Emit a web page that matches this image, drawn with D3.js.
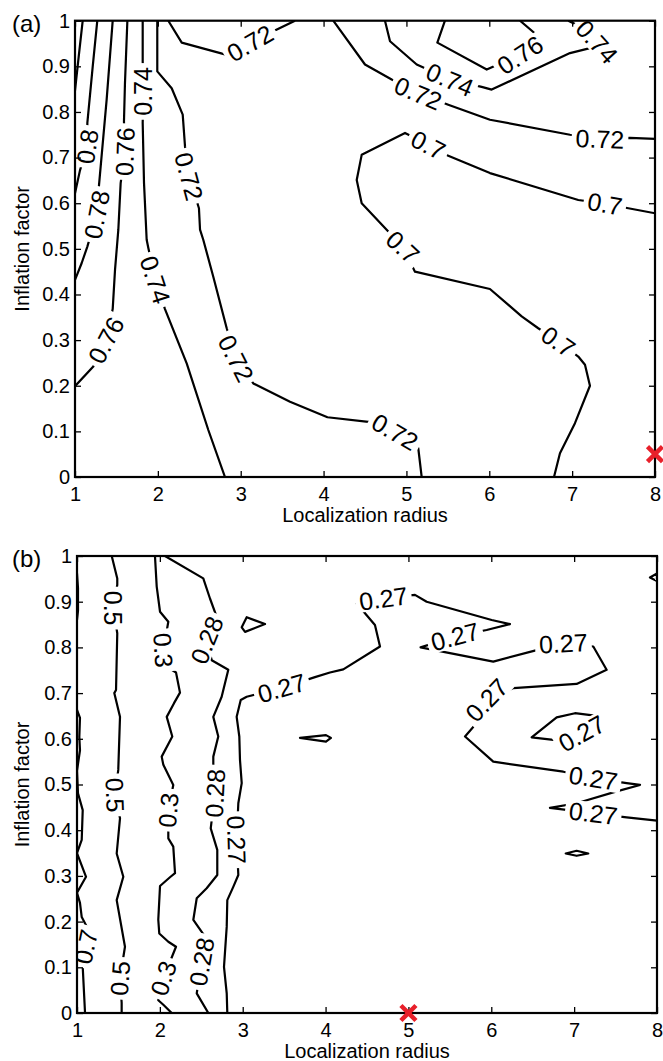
<!DOCTYPE html>
<html><head><meta charset="utf-8">
<script src="https://cdn.jsdelivr.net/npm/d3@7"></script>
<style>
body{margin:0;background:#fff}
text{font-family:"Liberation Sans",Arial,Helvetica,sans-serif;fill:#000}
</style>
</head><body>
<svg id="chart" width="663" height="1061"></svg>
<script>
// ---------- data ----------
const xTicks = [1,2,3,4,5,6,7,8];
const yTicks = [0,0.1,0.2,0.3,0.4,0.5,0.6,0.7,0.8,0.9,1];
const xLabel = "Localization radius";
const yLabel = "Inflation factor";

// Panel (a) contour lines [x, y] in data units
const contoursA = [
  {level:0.82, pts:[[1.093,1.0],[1.045,0.922],[1.0,0.847]]},
  {level:0.80, pts:[[1.269,1.0],[1.214,0.900],[1.149,0.776],[1.149,0.724],[1.060,0.672],[1.0,0.622]]},
  {level:0.78, pts:[[1.455,1.0],[1.382,0.827],[1.290,0.640],[1.262,0.575],[1.149,0.505],[1.081,0.469],[1.0,0.432]]},
  {level:0.76, pts:[[1.632,1.0],[1.603,0.863],[1.591,0.779],[1.603,0.713],[1.551,0.644],[1.523,0.542],[1.483,0.454],[1.455,0.368],[1.374,0.300],[1.221,0.242],[1.0,0.199]]},
  {level:0.74, pts:[[1.817,1.0],[1.817,0.911],[1.825,0.845],[1.817,0.776],[1.833,0.644],[1.865,0.520],[1.885,0.502],[1.97,0.432],[2.086,0.368],[2.348,0.249],[2.609,0.103],[2.810,0]]},
  {level:0.72, pts:[[1.993,1.0],[1.993,0.889],[2.167,0.852],[2.300,0.794],[2.328,0.724],[2.376,0.659],[2.496,0.589],[2.509,0.542],[2.548,0.520],[2.669,0.439],[2.831,0.326],[2.943,0.260],[3.152,0.205],[3.595,0.165],[4.047,0.131],[4.540,0.121],[4.862,0.099],[5.143,0.063],[5.184,0]]},
  {level:0.72, pts:[[2.126,1.0],[2.288,0.952],[2.831,0.925],[3.112,0.951],[3.393,0.977],[3.655,1.0]]},
  {level:0.72, pts:[[4.117,1.0],[4.500,0.904],[4.822,0.871],[5.143,0.841],[5.505,0.816],[6.008,0.783],[6.974,0.750],[7.336,0.741],[7.698,0.743],[8.0,0.741]]},
  {level:0.74, pts:[[4.741,1.0],[4.802,0.955],[5.124,0.904],[5.526,0.871],[5.908,0.855],[6.029,0.849],[6.974,0.929],[7.215,0.940],[7.30,0.954],[7.134,0.984],[6.953,1.0]]},
  {level:0.76, pts:[[5.465,1.0],[5.373,0.952],[5.969,0.893],[6.371,0.925],[6.591,0.966],[6.371,1.0]]},
  {level:0.70, pts:[[8.0,0.578],[7.678,0.589],[7.396,0.599],[7.074,0.607],[6.008,0.666],[5.505,0.704],[5.264,0.728],[4.983,0.754],[4.460,0.706],[4.400,0.651],[4.460,0.600],[4.781,0.538],[4.958,0.504],[5.103,0.450],[6.008,0.412],[6.391,0.352],[6.591,0.326],[6.833,0.297],[7.074,0.264],[7.155,0.246],[7.215,0.200],[7.034,0.118],[6.853,0.052],[6.781,0]]}
];
// Panel (a) inline labels: [text, x, y, angle]
const labelsA = [
  ["0.8",1.149,0.724,-82],["0.78",1.262,0.575,-79],["0.76",1.603,0.713,-88],["0.76",1.374,0.300,-62],
  ["0.74",1.825,0.845,-90],["0.74",1.97,0.432,72],["0.72",2.376,0.659,75],["0.72",2.943,0.260,63],
  ["0.72",4.862,0.099,30],["0.72",3.112,0.951,-30],["0.72",5.143,0.841,23],["0.72",7.336,0.741,2],
  ["0.74",5.526,0.871,23],["0.74",7.30,0.954,48],["0.76",6.371,0.925,-33],["0.7",7.396,0.599,10],
  ["0.7",5.264,0.728,27],["0.7",4.958,0.504,43],["0.7",6.833,0.297,35]
];
const markerA = [8,0.05];

// Panel (b) contour lines
const contoursB = [
  {level:0.7, pts:[[1.0,0.962],[1.012,0.93],[1.012,0.88],[1.0,0.86]]},
  {level:0.7, pts:[[1.0,0.663],[1.036,0.646],[1.028,0.604],[1.036,0.575],[1.0,0.53],[1.012,0.481],[1.069,0.444],[1.057,0.379],[1.0,0.35],[1.109,0.298],[1.0,0.263],[1.036,0.241],[1.057,0.21],[1.157,0.175],[1.105,0.145],[1.069,0.101],[1.097,0]]},
  {level:0.5, pts:[[1.419,1.0],[1.486,0.951],[1.486,0.937],[1.438,0.886],[1.486,0.831],[1.471,0.707],[1.450,0.70],[1.519,0.648],[1.498,0.532],[1.459,0.477],[1.519,0.426],[1.479,0.349],[1.559,0.298],[1.479,0.247],[1.579,0.145],[1.519,0.076],[1.539,0.022],[1.539,0]]},
  {level:0.3, pts:[[1.941,1.0],[1.962,0.933],[2.002,0.878],[2.102,0.856],[2.042,0.794],[2.143,0.751],[2.195,0.745],[2.243,0.701],[2.171,0.678],[2.083,0.648],[2.150,0.605],[2.022,0.561],[2.042,0.543],[2.162,0.499],[2.102,0.444],[2.102,0.382],[2.162,0.364],[2.183,0.306],[2.122,0.297],[2.002,0.278],[1.981,0.204],[1.993,0.174],[2.102,0.156],[2.195,0.145],[2.042,0.076],[1.981,0.028],[2.042,0.018],[2.143,0]]},
  {level:0.28, pts:[[2.062,1.0],[2.524,0.951],[2.605,0.907],[2.686,0.867],[2.565,0.816],[2.626,0.772],[2.826,0.751],[2.746,0.692],[2.645,0.648],[2.705,0.605],[2.645,0.561],[2.645,0.532],[2.665,0.481],[2.614,0.404],[2.693,0.357],[2.693,0.302],[2.565,0.273],[2.445,0.251],[2.404,0.204],[2.545,0.167],[2.505,0.112],[2.445,0.043],[2.585,0]]},
  {level:0.27, pts:[[2.814,0],[2.807,0.043],[2.774,0.101],[2.807,0.189],[2.814,0.247],[2.886,0.276],[2.947,0.302],[2.927,0.379],[2.947,0.459],[2.988,0.503],[2.967,0.554],[2.959,0.605],[2.927,0.648],[2.976,0.685],[3.048,0.692],[3.470,0.711],[3.872,0.735],[4.053,0.745],[4.214,0.752],[4.657,0.802],[4.596,0.849],[4.376,0.896],[4.697,0.907],[5.079,0.915],[5.220,0.900],[6.005,0.860],[6.226,0.851],[5.944,0.838],[5.562,0.824],[5.147,0.800],[6.024,0.769],[6.548,0.794],[6.869,0.809],[7.231,0.802],[7.392,0.751],[7.030,0.720],[6.266,0.711],[5.944,0.685],[5.803,0.630],[5.683,0.605],[6.024,0.550],[6.869,0.528],[7.231,0.514],[7.634,0.503],[7.795,0.499],[7.513,0.485],[7.030,0.459],[6.708,0.449],[6.93,0.444],[7.231,0.437],[7.634,0.428],[8.0,0.421]]},
  {level:0.27, closed:true, pts:[[6.487,0.603],[6.789,0.647],[7.010,0.656],[7.272,0.650],[7.332,0.634],[7.091,0.612],[6.829,0.596]]},
  {level:0.27, closed:true, pts:[[2.988,0.844],[3.048,0.866],[3.269,0.851],[3.028,0.834]]},
  {level:0.27, closed:true, pts:[[3.691,0.602],[4.005,0.608],[4.065,0.602],[4.005,0.594]]},
  {level:0.27, closed:true, pts:[[6.898,0.349],[7.03,0.355],[7.171,0.349],[7.03,0.344]]},
  {level:0.27, closed:true, pts:[[7.915,0.953],[8.0,0.962],[8.0,0.945]]}
];
const labelsB = [
  ["0.7",1.105,0.145,-78],
  ["0.5",1.438,0.886,90],["0.5",1.459,0.477,88],["0.5",1.519,0.076,-86],
  ["0.3",2.042,0.794,86],["0.3",2.102,0.444,-85],["0.3",2.042,0.076,-72],
  ["0.28",2.565,0.816,-68],["0.28",2.665,0.481,-87],["0.28",2.505,0.112,-80],
  ["0.27",2.927,0.379,88],["0.27",3.470,0.711,-16],["0.27",4.697,0.907,-8],["0.27",5.562,0.824,-15],
  ["0.27",6.869,0.809,-3],["0.27",5.944,0.685,-46],["0.27",7.231,0.514,9],["0.27",7.231,0.437,7],
  ["0.27",7.091,0.612,-29]
];
const markerB = [5,0];

// ---------- drawing ----------
const svg = d3.select("#chart");
const FONT = '"Liberation Sans",Arial,Helvetica,sans-serif';

function drawPanel(cfg, contours, labels, marker, tag, id){
  const x = d3.scaleLinear().domain([1,8]).range([cfg.left,cfg.right]);
  const y = d3.scaleLinear().domain([0,1]).range([cfg.bottom,cfg.top]);
  const g = svg.append("g");

  g.append("clipPath").attr("id","clip"+id).append("rect")
    .attr("x",cfg.left).attr("y",cfg.top)
    .attr("width",cfg.right-cfg.left).attr("height",cfg.bottom-cfg.top);

  const plot = g.append("g").attr("clip-path","url(#clip"+id+")");
  const line = d3.line().x(d=>x(d[0])).y(d=>y(d[1]));
  const lineC = d3.line().x(d=>x(d[0])).y(d=>y(d[1])).curve(d3.curveLinearClosed);
  plot.selectAll("path.c").data(contours).enter().append("path")
    .attr("class","c")
    .attr("d",d=>d.closed?lineC(d.pts):line(d.pts))
    .attr("fill","none").attr("stroke","#000").attr("stroke-width",2.2)
    .attr("stroke-linejoin","round");

  // inline labels with white gap
  const lg = plot.selectAll("g.lab").data(labels).enter().append("g")
    .attr("class","lab")
    .attr("transform",d=>`translate(${x(d[1])},${y(d[2])}) rotate(${d[3]})`);
  lg.each(function(d){
    const s = d3.select(this);
    const r = s.append("rect").attr("fill","#fff");
    const t = s.append("text").text(d[0])
      .attr("text-anchor","middle").attr("dy","0.36em")
      .style("font-size","25px").style("font-family",FONT);
    const w = t.node().getComputedTextLength();
    r.attr("x",-w/2-4).attr("y",-11).attr("width",w+8).attr("height",22);
  });

  // axes (ticks inside, box)
  const fmt = d=>String(+(+d).toFixed(1));
  const ax = [
    g.append("g").attr("transform",`translate(0,${cfg.bottom})`)
      .call(d3.axisBottom(x).tickValues(xTicks).tickSize(-6).tickPadding(10).tickFormat(fmt)),
    g.append("g").attr("transform",`translate(0,${cfg.top})`)
      .call(d3.axisTop(x).tickValues(xTicks).tickSize(-6).tickFormat("")),
    g.append("g").attr("transform",`translate(${cfg.left},0)`)
      .call(d3.axisLeft(y).tickValues(yTicks).tickSize(-6).tickPadding(5).tickFormat(fmt)),
    g.append("g").attr("transform",`translate(${cfg.right},0)`)
      .call(d3.axisRight(y).tickValues(yTicks).tickSize(-6).tickFormat(""))
  ];
  ax.forEach(a=>{
    a.select(".domain").remove();
    a.selectAll(".tick line").attr("stroke","#000").attr("stroke-width",1.3);
    a.selectAll("text").style("font-size","20px").style("font-family",FONT).attr("fill","#000");
  });
  g.append("rect").attr("x",cfg.left).attr("y",cfg.top)
    .attr("width",cfg.right-cfg.left).attr("height",cfg.bottom-cfg.top)
    .attr("fill","none").attr("stroke","#000").attr("stroke-width",2.2);

  // axis titles
  g.append("text").attr("x",(cfg.left+cfg.right)/2).attr("y",cfg.bottom+45)
    .attr("text-anchor","middle").style("font-size","20px").style("font-family",FONT).text(xLabel);
  g.append("text").attr("transform",`translate(29,${(cfg.top+cfg.bottom)/2}) rotate(-90)`)
    .attr("text-anchor","middle").style("font-size","20px").style("font-family",FONT).text(yLabel);
  g.append("text").attr("x",12).attr("y",cfg.top+11).style("font-size","24px").style("font-family",FONT).text(tag);

  // red X marker
  const mx = x(marker[0]), my = y(marker[1]), s = 7.5;
  g.append("path")
    .attr("d",`M${mx-s},${my-s}L${mx+s},${my+s}M${mx-s},${my+s}L${mx+s},${my-s}`)
    .attr("stroke","#e8202a").attr("stroke-width",4.5).attr("stroke-linecap","butt");
}

drawPanel({left:75,right:655,top:20.7,bottom:477}, contoursA, labelsA, markerA, "(a)", "a");
drawPanel({left:77,right:657,top:556,bottom:1013}, contoursB, labelsB, markerB, "(b)", "b");
</script>
</body></html>
